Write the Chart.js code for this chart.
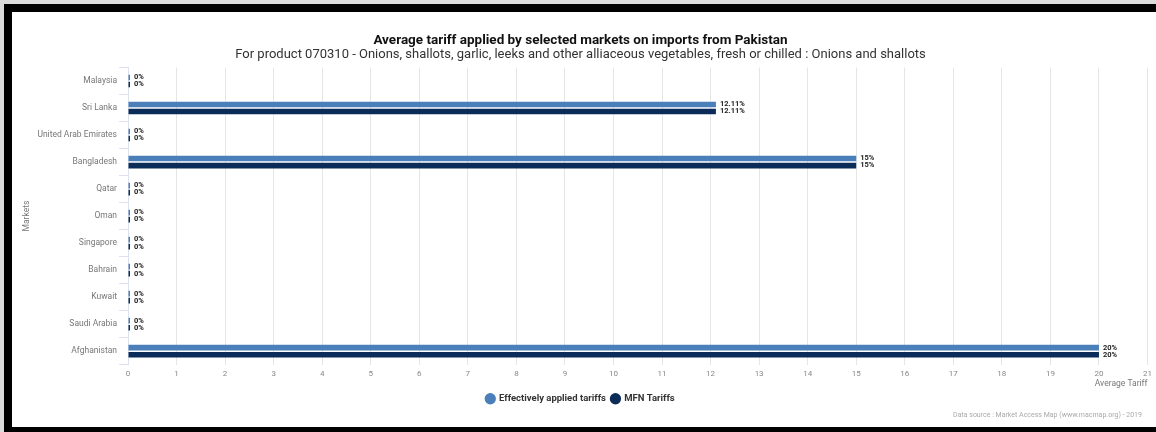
<!DOCTYPE html>
<html>
<head>
<meta charset="utf-8">
<script src="https://cdn.jsdelivr.net/npm/chart.js@4"></script>
<style>
  html, body { margin: 0; padding: 0; }
  body { width: 1156px; height: 432px; overflow: hidden; background: #dcdcdc; position: relative; font-family: Roboto, sans-serif; }
  #frame { position: absolute; left: 4px; top: 4px; width: 1170px; height: 431px; border: 8px solid #000; box-sizing: border-box; background: #fff; }
  #wrap { position: absolute; left: 12px; top: 12px; width: 1144px; height: 415px; }
  #credit { position: absolute; right: 14px; top: 411px; font-size: 7px; color: #aaa; }
</style>
</head>
<body>
<div id="frame"></div>
<div id="wrap"><canvas id="c"></canvas></div>
<div id="credit">Data source : Market Access Map (www.macmap.org) - 2019</div>
<script>
const markets = ['Malaysia', 'Sri Lanka', 'United Arab Emirates', 'Bangladesh', 'Qatar', 'Oman',
    'Singapore', 'Bahrain', 'Kuwait', 'Saudi Arabia', 'Afghanistan'];
const appliedTariffs = [0, 12.11, 0, 15, 0, 0, 0, 0, 0, 0, 20];
const mfnTariffs = [0, 12.11, 0, 15, 0, 0, 0, 0, 0, 0, 20];

// value labels at the end of each bar
const barLabels = {
    id: 'barLabels',
    afterDatasetsDraw(chart) {
        const ctx = chart.ctx;
        ctx.save();
        ctx.font = 'bold 7.5px Roboto';
        ctx.fillStyle = '#222';
        ctx.textBaseline = 'middle';
        ctx.textAlign = 'left';
        chart.data.datasets.forEach((ds, di) => {
            chart.getDatasetMeta(di).data.forEach((bar, i) => {
                ctx.fillText(ds.data[i] + '%', bar.x + 4, bar.y);
            });
        });
        ctx.restore();
    }
};

new Chart(document.getElementById('c'), {
    type: 'bar',
    data: {
        labels: markets,
        datasets: [
            {
                label: 'Effectively applied tariffs',
                data: appliedTariffs,
                backgroundColor: '#4a7fba',
                minBarLength: 2
            },
            {
                label: 'MFN Tariffs',
                data: mfnTariffs,
                backgroundColor: '#0b2c58',
                minBarLength: 2
            }
        ]
    },
    plugins: [barLabels],
    options: {
        indexAxis: 'y',
        responsive: true,
        maintainAspectRatio: false,
        animation: false,
        categoryPercentage: 0.52,
        barPercentage: 0.8,
        layout: { padding: { left: 0, right: 7, top: 0, bottom: 13.5 } },
        plugins: {
            title: {
                display: true,
                text: 'Average tariff applied by selected markets on imports from Pakistan',
                font: { family: 'Roboto', size: 13.5, weight: 'bold', lineHeight: 1 },
                color: '#111',
                padding: { top: 21.5, bottom: 1 }
            },
            subtitle: {
                display: true,
                text: 'For product 070310 - Onions, shallots, garlic, leeks and other alliaceous vegetables, fresh or chilled : Onions and shallots',
                font: { family: 'Roboto', size: 13, lineHeight: 1 },
                color: '#333',
                padding: { top: 0, bottom: 6.5 }
            },
            legend: {
                position: 'bottom',
                labels: {
                    usePointStyle: true,
                    pointStyle: 'circle',
                    boxWidth: 8,
                    boxHeight: 8,
                    padding: 5.5,
                    font: { family: 'Roboto', size: 9.5, weight: 'bold' },
                    color: '#333'
                }
            },
            tooltip: { enabled: false }
        },
        scales: {
            x: {
                min: 0,
                max: 21,
                ticks: { stepSize: 1, padding: 4, color: '#888', font: { family: 'Roboto', size: 8 } },
                grid: { color: '#e6e6e6', drawTicks: false },
                border: { display: false },
                title: {
                    display: true,
                    text: 'Average Tariff',
                    align: 'end',
                    color: '#777',
                    font: { family: 'Roboto', size: 8.5 },
                    padding: { top: -4, bottom: 0 }
                }
            },
            y: {
                ticks: { padding: 2, color: '#777', font: { family: 'Roboto', size: 8.5 } },
                grid: { drawOnChartArea: false, tickLength: 9, color: '#dde3ee' },
                border: { display: true, color: '#dde3ee' },
                title: {
                    display: true,
                    text: 'Markets',
                    color: '#777',
                    font: { family: 'Roboto', size: 8.5 },
                    padding: { top: 10, bottom: 0 }
                },
                afterFit(axis) { axis.width = 116; }
            }
        }
    }
});
</script>
</body>
</html>
